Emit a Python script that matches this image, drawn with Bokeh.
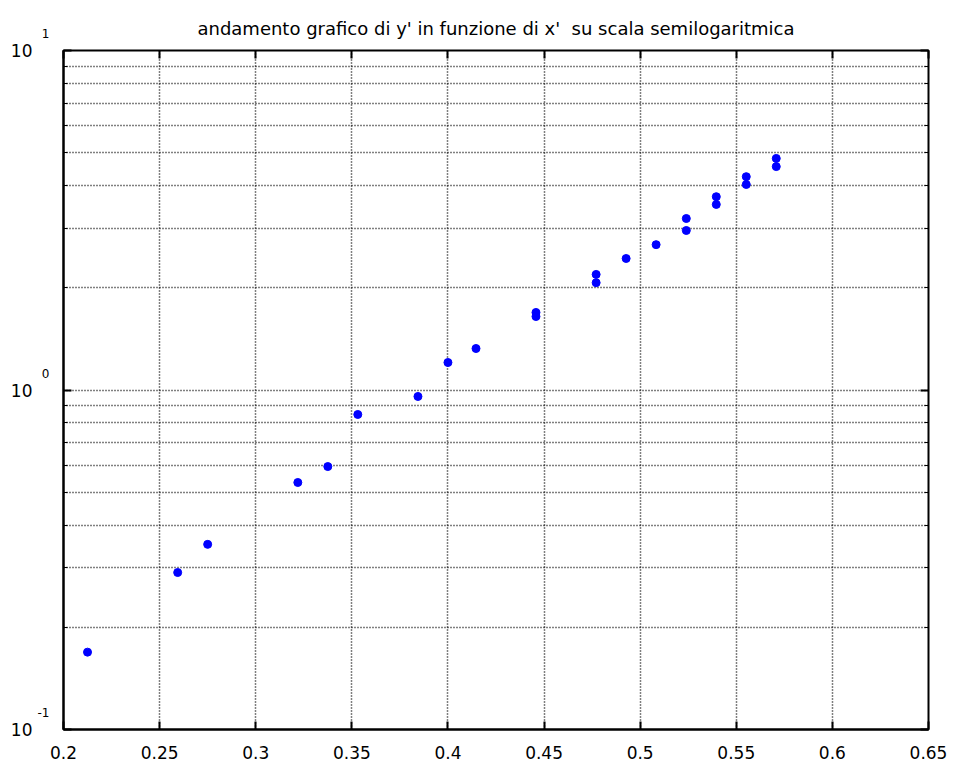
from bokeh.plotting import figure
from bokeh.models import FixedTicker, LinearAxis, LogAxis
from bokeh.embed import file_html
from bokeh.resources import INLINE

# measured points (x', y')
x_vals = [0.2125, 0.2594, 0.2750, 0.3219, 0.3375, 0.3531, 0.3844, 0.4000,
          0.4146, 0.4458, 0.4458, 0.4771, 0.4771, 0.4927, 0.5083, 0.5240,
          0.5240, 0.5396, 0.5396, 0.5552, 0.5552, 0.5708, 0.5708]
y_vals = [0.169, 0.290, 0.351, 0.534, 0.595, 0.847, 0.957, 1.205,
          1.325, 1.692, 1.646, 2.19, 2.07, 2.44, 2.68, 3.20,
          2.95, 3.71, 3.52, 4.25, 4.03, 4.81, 4.55]

x_ticks = [0.2, 0.25, 0.3, 0.35, 0.4, 0.45, 0.5, 0.55, 0.6, 0.65]
x_tick_labels = ["0.2", "0.25", "0.3", "0.35", "0.4", "0.45", "0.5", "0.55", "0.6", "0.65"]
y_decades = [0.1, 1.0, 10.0]
y_exponents = ["-1", "0", "1"]
y_minor = [0.2, 0.3, 0.4, 0.5, 0.6, 0.7, 0.8, 0.9, 2, 3, 4, 5, 6, 7, 8, 9]

FONT = "DejaVu Sans"
W, H = 957, 769

p = figure(width=W, height=H, x_range=(0.2, 0.65), y_range=(0.1, 10),
           y_axis_type="log", output_backend="svg", toolbar_location=None,
           min_border_left=63, min_border_right=29, min_border_top=50,
           min_border_bottom=40, background_fill_color="white",
           border_fill_color="white")

p.title.text = "andamento grafico di y' in funzione di x'\u00a0 su scala semilogaritmica"
p.title.align = "center"
p.title.text_font = FONT
p.title.text_font_size = "18px"
p.title.text_font_style = "normal"
p.title.text_color = "black"
p.title.standoff = 24

p.outline_line_color = "black"
p.outline_line_width = 2
p.outline_line_alpha = 1.0

xt = FixedTicker(ticks=x_ticks, minor_ticks=[])
yt = FixedTicker(ticks=y_decades, minor_ticks=y_minor)

# bottom axis
xa = p.xaxis[0]
xa.ticker = xt
xa.major_label_overrides = {t: s for t, s in zip(x_ticks, x_tick_labels)}
xa.major_label_text_font = FONT
xa.major_label_text_font_size = "17px"
xa.major_label_text_color = "black"
xa.major_label_standoff = 16
xa.major_tick_in = 8
xa.major_tick_out = 0
xa.major_tick_line_width = 2
xa.axis_line_width = 2
xa.axis_line_color = "black"

# inner left axis: the raised exponents (two empty lines below push them up)
ya = p.yaxis[0]
ya.ticker = yt
ya.major_label_overrides = {t: e + "\n\n" for t, e in zip(y_decades, y_exponents)}
ya.major_label_text_font = FONT
ya.major_label_text_font_size = "12px"
ya.major_label_text_line_height = 1.15
ya.major_label_text_color = "black"
ya.major_label_standoff = 14
ya.major_tick_in = 8
ya.major_tick_out = 0
ya.minor_tick_in = 4
ya.minor_tick_out = 0
ya.major_tick_line_width = 2
ya.axis_line_width = 2
ya.axis_line_color = "black"

# outer left axis: the base "10" of every decade label
base = LogAxis(ticker=yt, major_label_overrides={t: "10" for t in y_decades},
               major_label_text_font=FONT, major_label_text_font_size="17px",
               major_label_text_color="black", major_label_standoff=2,
               major_tick_in=0, major_tick_out=0, minor_tick_in=0, minor_tick_out=0,
               axis_line_color=None)
p.add_layout(base, "left")

# mirrored tick marks on top and right
top = LinearAxis(ticker=xt, major_label_overrides={t: "" for t in x_ticks},
                 major_label_standoff=0, major_tick_in=8, major_tick_out=0,
                 major_tick_line_width=2, axis_line_color=None)
right = LogAxis(ticker=yt, major_label_overrides={t: "" for t in y_decades},
                major_label_standoff=0, major_tick_in=8, major_tick_out=0,
                minor_tick_in=4, minor_tick_out=0, major_tick_line_width=2,
                axis_line_color=None)
p.add_layout(top, "above")
p.add_layout(right, "right")

# dotted grid
for g in (p.xgrid, p.ygrid):
    g.grid_line_color = "black"
    g.grid_line_dash = "1 2"
    g.grid_line_width = 1.5
p.xgrid.ticker = xt
p.ygrid.ticker = yt
p.ygrid.minor_grid_line_color = "black"
p.ygrid.minor_grid_line_dash = "1 2"
p.ygrid.minor_grid_line_width = 1.5

p.scatter(x_vals, y_vals, size=8, color="#0000ff", line_color="#0000ff")

open("out.html", "w").write(file_html(p, INLINE))
